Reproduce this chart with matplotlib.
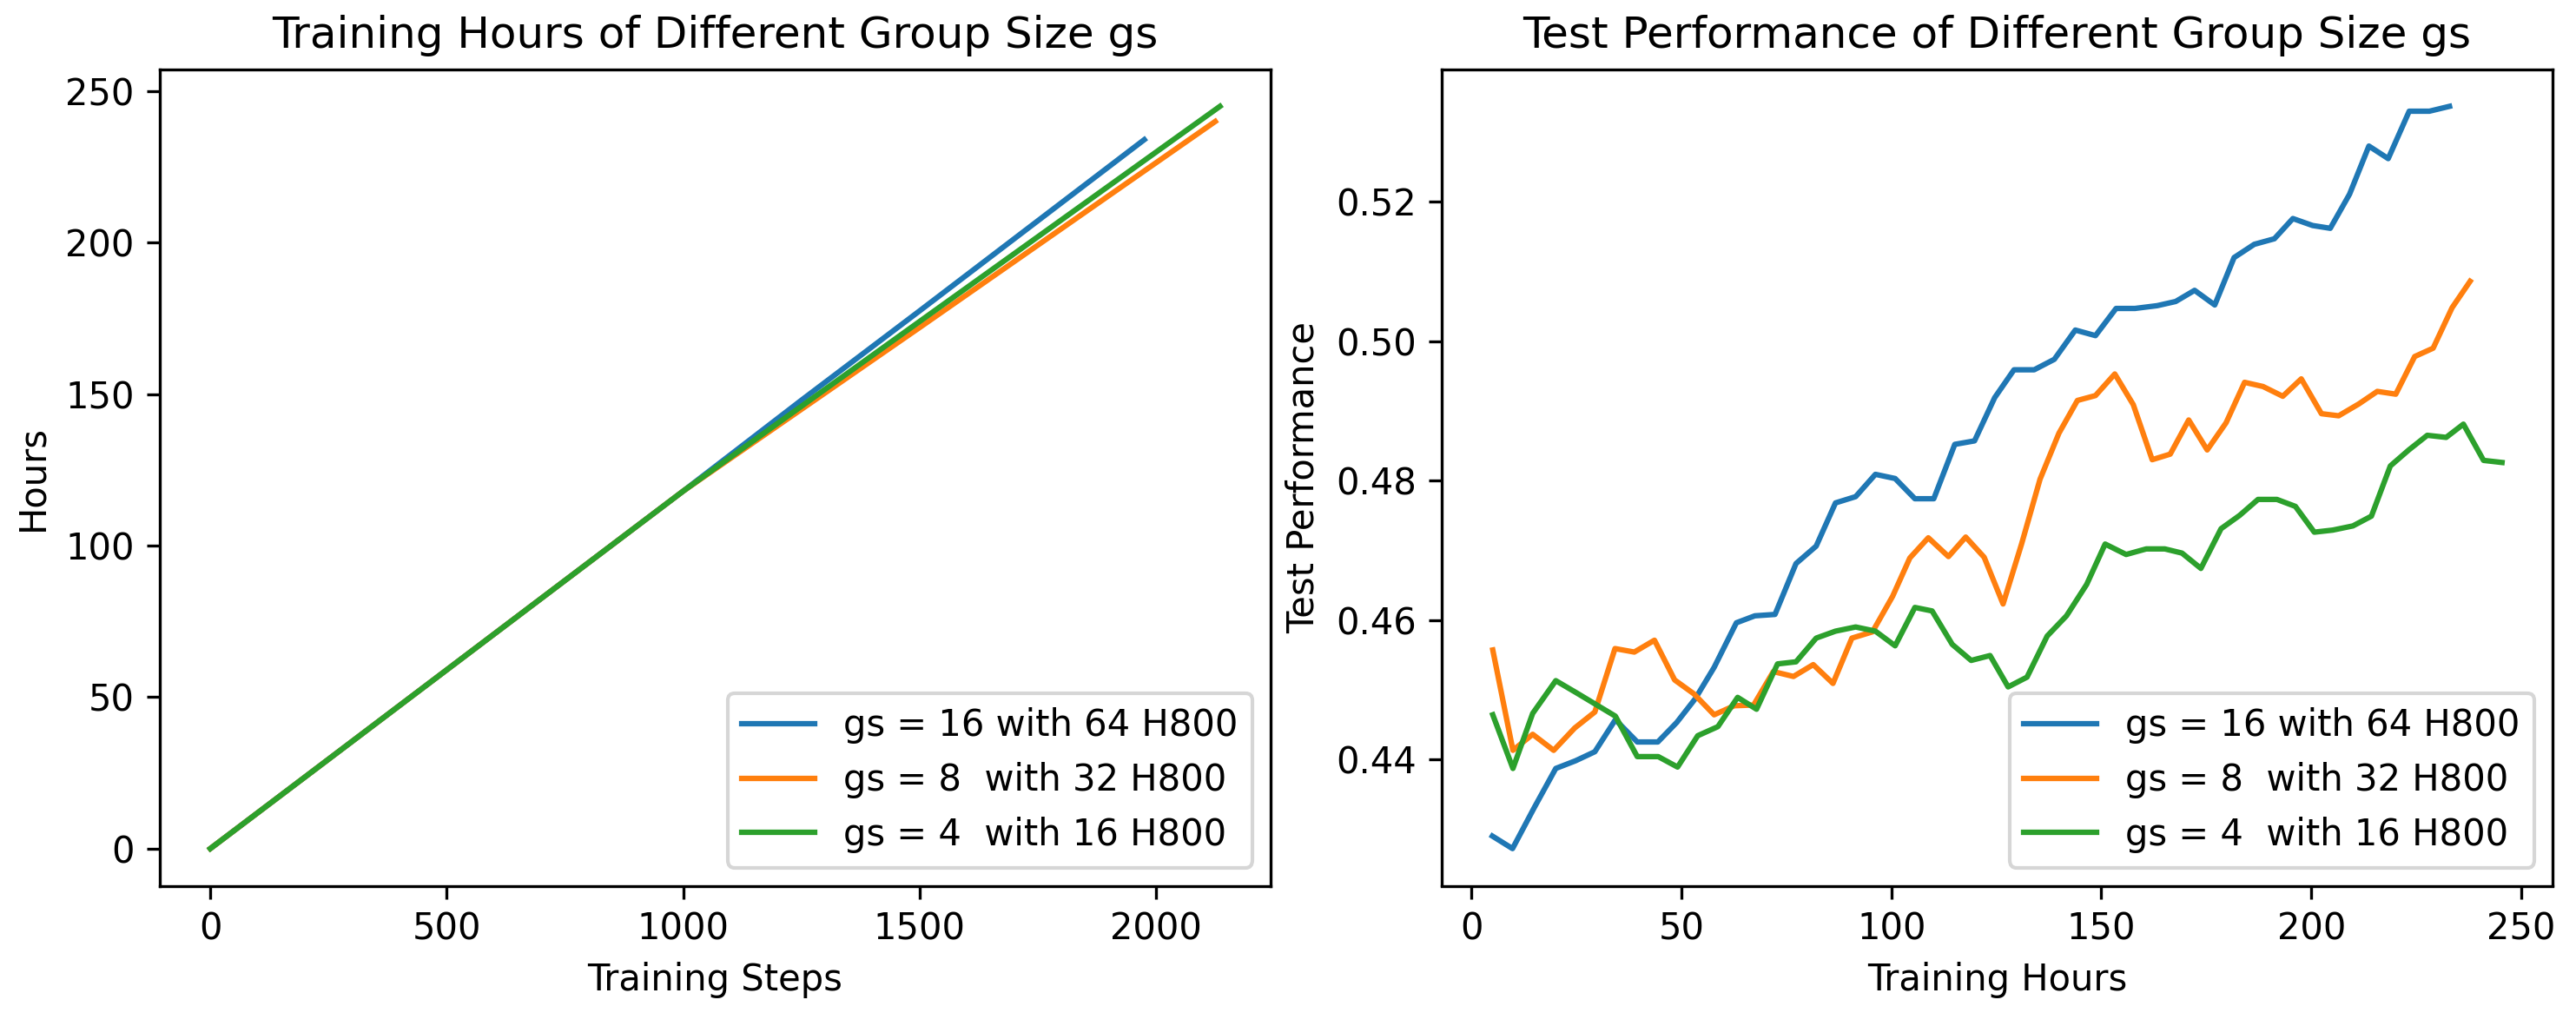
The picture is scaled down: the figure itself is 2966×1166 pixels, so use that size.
import matplotlib.pyplot as plt

# legend labels
labels = ["gs = 16 with 64 H800", "gs = 8  with 32 H800", "gs = 4  with 16 H800"]

# left panel: training steps vs hours
steps_16 = [0, 500, 1000, 1250, 1500, 1975]
hours_16 = [0, 59, 118, 148, 177.5, 234]
steps_8 = [0, 500, 1000, 1250, 1500, 2125]
hours_8 = [0, 59, 118, 145, 172, 240]
steps_4 = [0, 500, 1000, 1250, 1500, 2135]
hours_4 = [0, 59, 118, 146, 174, 245]

# right panel: test performance vs training hours
th_16 = [5.0, 9.8, 14.9, 20.1, 24.8, 29.4, 34.3, 39.5, 44.4, 48.9, 53.3, 57.8, 63.1, 67.5,
         72.3, 77.3, 82.1, 86.7, 91.5, 96.2, 100.9, 105.6, 110.1, 115.1, 119.8, 124.6, 129.2,
         134.0, 138.8, 143.8, 148.6, 153.5, 158.0, 163.3, 167.7, 172.2, 177.0, 181.6, 186.4,
         191.2, 195.6, 200.3, 204.5, 209.1, 213.7, 218.3, 223.3, 228.1, 232.9]
perf_16 = [0.4290, 0.4272, 0.4330, 0.4387, 0.4398, 0.4411, 0.4457, 0.4425, 0.4425, 0.4453,
           0.4487, 0.4532, 0.4596, 0.4606, 0.4608, 0.4681, 0.4706, 0.4768, 0.4777, 0.4809,
           0.4803, 0.4774, 0.4774, 0.4852, 0.4857, 0.4919, 0.4959, 0.4959, 0.4974, 0.5016,
           0.5008, 0.5047, 0.5047, 0.5051, 0.5057, 0.5073, 0.5052, 0.5120, 0.5139, 0.5147,
           0.5176, 0.5166, 0.5162, 0.5211, 0.5280, 0.5262, 0.5330, 0.5330, 0.5337]

th_8 = [5.1, 9.9, 14.6, 19.6, 24.6, 29.4, 34.2, 38.8, 43.6, 48.4, 53.0, 57.8, 62.6, 67.2,
        71.9, 76.7, 81.4, 86.1, 90.6, 95.5, 100.3, 104.4, 108.8, 113.6, 117.7, 122.1, 126.6,
        131.0, 135.4, 139.9, 144.3, 148.6, 153.2, 157.6, 162.1, 166.4, 170.8, 175.2, 179.7,
        184.1, 188.5, 193.2, 197.6, 202.4, 206.5, 211.3, 215.7, 220.1, 224.6, 229.0, 233.5, 237.8]
perf_8 = [0.4557, 0.4413, 0.4436, 0.4413, 0.4445, 0.4468, 0.4559, 0.4554, 0.4571, 0.4514,
          0.4494, 0.4464, 0.4477, 0.4478, 0.4526, 0.4519, 0.4536, 0.4509, 0.4574, 0.4583,
          0.4634, 0.4689, 0.4718, 0.4691, 0.4719, 0.4690, 0.4623, 0.4709, 0.4802, 0.4868,
          0.4915, 0.4922, 0.4953, 0.4909, 0.4830, 0.4838, 0.4887, 0.4844, 0.4883, 0.4941,
          0.4935, 0.4921, 0.4946, 0.4896, 0.4893, 0.4910, 0.4928, 0.4924, 0.4978, 0.4990,
          0.5048, 0.5086]

th_4 = [5.1, 9.9, 14.6, 20.1, 24.9, 29.6, 34.3, 39.5, 44.5, 49.1, 53.9, 58.7, 63.4, 67.9,
        72.9, 77.3, 82.1, 86.7, 91.5, 96.2, 100.9, 105.6, 109.7, 114.5, 119.0, 123.5, 127.8,
        132.3, 137.1, 141.7, 146.5, 150.9, 155.9, 160.7, 165.1, 169.2, 173.7, 178.5, 182.9,
        187.3, 191.8, 196.2, 200.7, 205.1, 209.9, 214.3, 218.8, 223.2, 227.6, 232.1, 236.2,
        241.0, 245.4]
perf_4 = [0.4464, 0.4387, 0.4466, 0.4513, 0.4496, 0.4479, 0.4462, 0.4404, 0.4404, 0.4389,
          0.4434, 0.4447, 0.4489, 0.4472, 0.4537, 0.4540, 0.4574, 0.4584, 0.4590, 0.4584,
          0.4563, 0.4618, 0.4613, 0.4565, 0.4542, 0.4549, 0.4504, 0.4518, 0.4577, 0.4606,
          0.4651, 0.4709, 0.4694, 0.4702, 0.4702, 0.4696, 0.4674, 0.4731, 0.4750, 0.4773,
          0.4773, 0.4763, 0.4726, 0.4729, 0.4735, 0.4749, 0.4821, 0.4844, 0.4865, 0.4862,
          0.4881, 0.4829, 0.4826]

fig, (ax1, ax2) = plt.subplots(1, 2, figsize=(2966 / 300, 1166 / 300), dpi=300)

ax1.plot(steps_16, hours_16, label=labels[0])
ax1.plot(steps_8, hours_8, label=labels[1])
ax1.plot(steps_4, hours_4, label=labels[2])
ax1.set_title("Training Hours of Different Group Size gs")
ax1.set_xlabel("Training Steps")
ax1.set_ylabel("Hours")
ax1.legend(loc="lower right")

ax2.plot(th_16, perf_16, label=labels[0])
ax2.plot(th_8, perf_8, label=labels[1])
ax2.plot(th_4, perf_4, label=labels[2])
ax2.set_title("Test Performance of Different Group Size gs")
ax2.set_xlabel("Training Hours")
ax2.set_ylabel("Test Performance")
ax2.legend(loc="lower right")

plt.tight_layout(pad=0.4)
plt.savefig("out.png", dpi=300)
